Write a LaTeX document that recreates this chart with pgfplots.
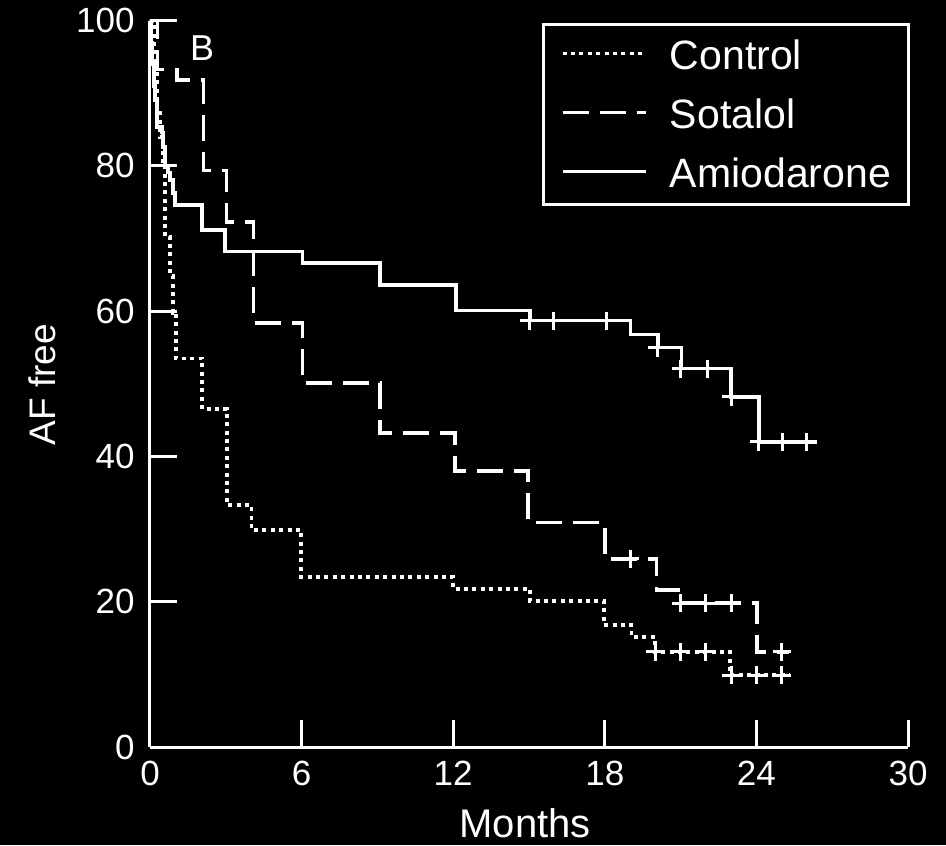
\documentclass[border=0pt]{standalone}
\usepackage{fontspec}
\setmainfont{Liberation Sans}
\usepackage{pgfplots}
\pgfplotsset{compat=1.18}
\begin{document}
\begin{tikzpicture}
\useasboundingbox (-75pt,-49pt) rectangle (398pt,373.5pt);
\fill[black] (-75pt,-49pt) rectangle (398pt,373.5pt);
\begin{axis}[
  scale only axis, width=379pt, height=363.15pt,
  at={(0,0)}, anchor=south west,
  xmin=0, xmax=30, ymin=0, ymax=100,
  clip=false,
  axis lines=left,
  axis line style={-, white, line width=1.5pt},
  xtick={0,6,12,18,24,30}, ytick={0,20,40,60,80,100},
  tick align=inside, major tick length=13.5pt,
  tick style={white, line width=1.5pt},
  /pgf/number format/assume math mode=true,
  ticklabel style={font=\fontsize{17.5}{20}\selectfont, text=white},
  xticklabel style={anchor=base, inner sep=0pt, yshift=-19pt},
  yticklabel style={anchor=east, inner sep=0pt, xshift=-7.5pt},
  xlabel={Months}, ylabel={AF free},
  every axis x label/.style={at={(axis description cs:0.495,0)}, anchor=base, yshift=-45.3pt, font=\fontsize{20}{24}\selectfont, text=white},
  every axis y label/.style={at={(axis description cs:-0.1425,0.4986)}, rotate=90, anchor=center, font=\fontsize{18.5}{22}\selectfont, text=white},
  legend style={draw=white, line width=1.5pt, fill=black, text=white,
    font=\fontsize{20.5}{24}\selectfont,
    at={(1.002,0.997)}, anchor=north east,
    inner xsep=8.5pt, inner ysep=8.5pt, row sep=15.5pt,
    nodes={inner sep=0pt, text height=14pt, text depth=0pt},
    /tikz/every odd column/.style={column sep=11pt}},
  legend cell align=left,
  legend image code/.code={\draw[#1] (0pt,0.9pt) -- (41.7pt,0.9pt);},
]
% Control
\addplot[const plot, white, line width=1.9pt, line cap=butt, dash pattern=on 2pt off 2.2pt] coordinates {
(0,100) (0.15,93) (0.3,88) (0.4,84) (0.5,80) (0.6,70.3) (0.8,64.8) (0.9,59.8)
(1.03,53.5) (2.07,46.5) (3.06,33.3) (4.02,29.9) (5.98,23.4) (12.0,21.8)
(15.04,20.1) (17.97,16.8) (19.06,15.1) (19.98,13.1) (22.95,9.9) (25.3,9.9)};
\addlegendentry{Control}
% Sotalol
\addplot[const plot, white, line width=1.8pt, line cap=butt, dash pattern=on 13pt off 5.5pt] coordinates {
(0,100) (0.3,93.3) (1.07,91.8) (2.11,79.4) (3.03,72.3) (4.09,58.4) (6.03,50.1)
(9.1,43.2) (12.07,38.0) (14.97,30.9) (18.0,25.9) (20.05,21.6) (21.0,19.8)
(24.03,13.1) (25.3,13.1)};
\addlegendentry{Sotalol}
% Amiodarone
\addplot[const plot, white, line width=1.8pt] coordinates {
(0,100) (0.05,97) (0.1,94) (0.15,91) (0.2,89.1) (0.28,85.4) (0.47,84.6)
(0.51,82.6) (0.59,79.9) (0.71,79.1) (0.79,78.1) (0.91,76.3) (0.99,74.6)
(2.05,71.2) (2.97,68.2) (6.03,66.6) (9.1,63.6) (12.1,60.1) (15.04,58.7)
(19.02,56.8) (20.1,55.0) (21.04,52.1) (23.0,48.2) (24.1,42.0) (26.4,42.0)};
\addlegendentry{Amiodarone}
% censor marks
\addplot[only marks, mark=+, mark size=4.5pt, white, line width=1.5pt, forget plot] coordinates {
(20.0,13.1) (21.0,13.1) (22.0,13.1) (23.0,9.9) (24.0,9.9) (25.0,9.9)};
\addplot[only marks, mark=+, mark size=4.5pt, white, line width=1.5pt, forget plot] coordinates {
(19.0,25.9) (21.0,19.8) (22.0,19.8) (23.0,19.8) (25.0,13.1)};
\addplot[only marks, mark=+, mark size=4.5pt, white, line width=1.5pt, forget plot] coordinates {
(15.0,58.7) (15.96,58.7) (18.05,58.7) (20.07,55.0) (21.0,52.1) (22.07,52.1)
(23.0,48.2) (24.1,42.0) (25.04,42.0) (25.99,42.0)};
\node[text=white, font=\fontsize{18}{22}\selectfont] at (axis cs:2.06,96.2) {B};
\end{axis}
\end{tikzpicture}
\end{document}
